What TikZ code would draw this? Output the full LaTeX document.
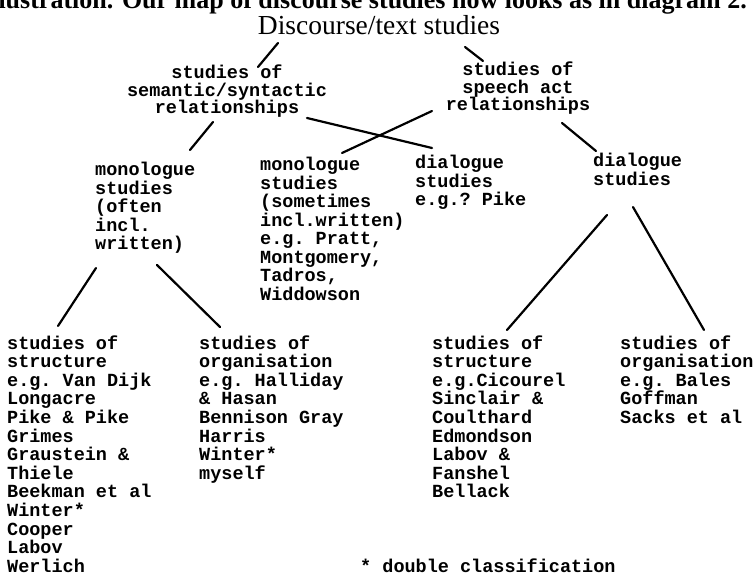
\documentclass[tikz,border=0pt]{standalone}
\usepackage{fontspec}
\setmainfont{Liberation Serif}
\setmonofont{Liberation Mono}
\usetikzlibrary{calc}

\begin{document}
\begin{tikzpicture}[x=1pt,y=-1pt,font=\ttfamily\bfseries]
\tikzset{
  banner/.style={font=\rmfamily\bfseries\fontsize{26}{28}\selectfont,anchor=base east,inner sep=0pt},
  heading/.style={font=\rmfamily\fontsize{27.5}{30}\selectfont,inner sep=0pt},
  topic/.style={font=\ttfamily\bfseries\fontsize{18.5}{17.5}\selectfont,align=center,anchor=base,inner sep=0pt},
  branch/.style={font=\ttfamily\bfseries\fontsize{18.5}{18.5}\selectfont,align=left,anchor=base west,inner sep=0pt},
  leaf/.style={branch,font=\ttfamily\bfseries\fontsize{18.5}{18.6}\selectfont},
  link/.style={line width=2.2pt,line cap=round}
}
\useasboundingbox[fill=white] (0,0) rectangle (753,577);
\begin{scope}
\clip (0,0) rectangle (753,577);
\node[banner] (intro) at (747,9) {illustration. Our map of discourse studies now looks as in diagram 2.};
\end{scope}

% nodes sit on the baseline of their last line
\node[heading] (title) at (379,25) {Discourse/text studies};
\node[topic] (sem) at (227,114) {studies of\\semantic/syntactic\\relationships};
\node[topic] (speech) at (518,111) {studies of\\speech act\\relationships};
\draw[link] ($(title.center)+(-101,18)$) -- ($(sem.base)+(31,-47)$);
\draw[link] ($(title.center)+(86,22)$) -- ($(speech.base)+(-35,-50)$);

\node[branch] (mono1) at (95,250) {monologue\\studies\\(often\\incl.\\written)};
\node[branch] (mono2) at (260,300.5) {monologue\\studies\\(sometimes\\incl.written)\\e.g. Pratt,\\Montgomery,\\Tadros,\\Widdowson};
\node[branch] (dia1) at (415,206) {dialogue\\studies\\e.g.? Pike};
\node[branch] (dia2) at (593,185.5) {dialogue\\studies};
\draw[link] ($(sem.base)+(-14,8)$) -- ($(mono1.base west)+(95,-100)$);
\draw[link] ($(sem.base)+(80,4)$) -- ($(dia1.base west)+(17,-58)$);
\draw[link] ($(speech.base)+(-86,0)$) -- ($(mono2.base west)+(82,-147.5)$);
\draw[link] ($(speech.base)+(44,12)$) -- ($(dia2.base west)+(3,-34.5)$);

\node[leaf] (struct1) at (7,572.2) {studies of\\structure\\e.g. Van Dijk\\Longacre\\Pike \& Pike\\Grimes\\Graustein \&\\Thiele\\Beekman et al\\Winter*\\Cooper\\Labov\\Werlich};
\node[leaf] (org1) at (199,479.2) {studies of\\organisation\\e.g. Halliday\\\& Hasan\\Bennison Gray\\Harris\\Winter*\\myself};
\node[leaf] (struct2) at (432,497.8) {studies of\\structure\\e.g.Cicourel\\Sinclair \&\\Coulthard\\Edmondson\\Labov \&\\Fanshel\\Bellack};
\node[leaf] (org2) at (620,423.4) {studies of\\organisation\\e.g. Bales\\Goffman\\Sacks et al};
\draw[link] ($(mono1.base west)+(1,18)$) -- ($(struct1.base west)+(51,-246.2)$);
\draw[link] ($(mono1.base west)+(62,15)$) -- ($(org1.base west)+(21,-152.2)$);
\draw[link] ($(dia2.base west)+(14,29.5)$) -- ($(struct2.base west)+(75,-167.8)$);
\draw[link] ($(dia2.base west)+(40,21.5)$) -- ($(org2.base west)+(84,-93.4)$);

\node[branch] (note) at (360,572) {* double classification};
\end{tikzpicture}
\end{document}
